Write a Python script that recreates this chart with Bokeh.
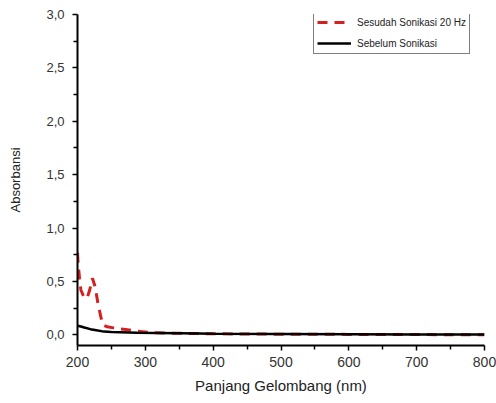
from bokeh.plotting import figure
from bokeh.models import FixedTicker, CustomJSTickFormatter, Legend, LegendItem
from bokeh.embed import file_html
from bokeh.resources import INLINE

# Data
red_x = [200, 201, 203, 205, 209, 214, 218, 222, 226, 230, 235, 238, 244, 253, 262, 271, 281, 295, 308, 337, 400, 500, 590, 600, 700, 800]
red_y = [0.77, 0.66, 0.53, 0.42, 0.36, 0.34, 0.42, 0.53, 0.45, 0.30, 0.15, 0.09, 0.075, 0.065, 0.055, 0.05, 0.04, 0.03, 0.02, 0.015, 0.01, 0.006, 0.006, 0.004, 0.002, 0.001]
red_name = "Sesudah Sonikasi 20 Hz"

black_x = [200, 205, 210, 219, 230, 239, 250, 288, 350, 380, 400, 500, 600, 700, 800]
black_y = [0.085, 0.078, 0.068, 0.053, 0.040, 0.030, 0.027, 0.020, 0.015, 0.012, 0.010, 0.007, 0.005, 0.003, 0.002]
black_name = "Sebelum Sonikasi"

x_ticks = [200, 300, 400, 500, 600, 700, 800]
x_minor = [250, 350, 450, 550, 650, 750]
y_ticks = [0.0, 0.5, 1.0, 1.5, 2.0, 2.5, 3.0]
y_minor = [0.25, 0.75, 1.25, 1.75, 2.25, 2.75]

p = figure(width=496, height=403, x_range=(200, 800), y_range=(-0.1, 3.0),
           output_backend="svg", toolbar_location=None,
           min_border_left=77, min_border_right=12, min_border_top=14, min_border_bottom=58)
p.outline_line_color = None
p.xgrid.visible = False
p.ygrid.visible = False
p.background_fill_color = "white"
p.border_fill_color = "white"

r_red = p.line(red_x, red_y, line_color="#d42020", line_width=3, line_dash="10 7")
r_black = p.line(black_x, black_y, line_color="black", line_width=2.5)

for ax in (p.xaxis[0], p.yaxis[0]):
    ax.axis_line_width = 2
    ax.axis_line_color = "black"
    ax.major_tick_in = 0
    ax.major_tick_out = 5
    ax.minor_tick_in = 0
    ax.minor_tick_out = 4
    ax.major_tick_line_width = 1.5
    ax.minor_tick_line_width = 1.5
    ax.major_label_text_font = "Liberation Sans"
    ax.major_label_text_color = "#333333"
    ax.axis_label_text_font = "Liberation Sans"
    ax.axis_label_text_font_style = "normal"
    ax.axis_label_text_color = "#222222"

p.xaxis.ticker = FixedTicker(ticks=x_ticks, minor_ticks=x_minor)
p.yaxis.ticker = FixedTicker(ticks=y_ticks, minor_ticks=y_minor)
p.yaxis.formatter = CustomJSTickFormatter(code="return tick.toFixed(1).replace('.', ',');")
p.xaxis.major_label_text_font_size = "14px"
p.yaxis.major_label_text_font_size = "13px"
p.xaxis.axis_label = "Panjang Gelombang (nm)"
p.yaxis.axis_label = "Absorbansi"
p.xaxis.axis_label_text_font_size = "15px"
p.yaxis.axis_label_text_font_size = "13px"
p.xaxis.major_label_standoff = 6
p.yaxis.major_label_standoff = 8
p.xaxis.axis_label_standoff = 7
p.yaxis.axis_label_standoff = 20

legend = Legend(items=[LegendItem(label=red_name, renderers=[r_red]),
                       LegendItem(label=black_name, renderers=[r_black])],
                location=(236, 291))
legend.border_line_color = "black"
legend.border_line_width = 1
legend.background_fill_alpha = 1
legend.label_text_font = "Liberation Sans"
legend.label_text_font_size = "10px"
legend.label_text_color = "#222222"
legend.glyph_width = 34
legend.glyph_height = 14
legend.label_height = 14
legend.label_standoff = 6
legend.spacing = 7
legend.padding = 3
legend.margin = 0
p.add_layout(legend)

open("out.html", "w").write(file_html(p, INLINE))
